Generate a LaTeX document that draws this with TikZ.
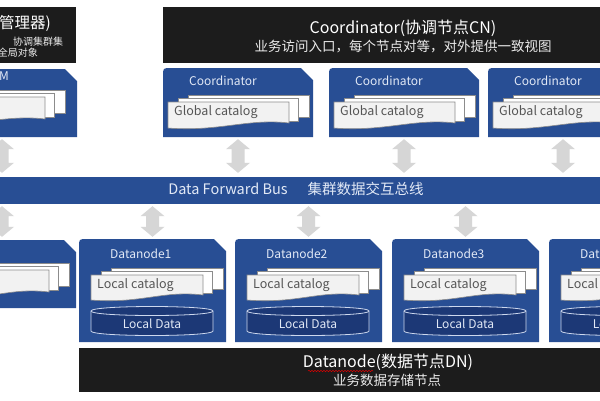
\documentclass[tikz,border=0pt]{standalone}
\usepackage{fontspec}
\setmainfont{Noto Sans CJK SC}
\usetikzlibrary{fit,calc,decorations.pathmorphing}

\definecolor{boxblue}{RGB}{40,78,148}
\definecolor{cylblue}{RGB}{28,56,118}
\definecolor{cyledge}{RGB}{205,216,238}
\definecolor{darkbox}{RGB}{28,28,28}
\definecolor{arrgray}{RGB}{214,214,214}
\definecolor{pagefill}{RGB}{242,242,242}
\definecolor{pageedge}{RGB}{140,140,140}
\definecolor{labeltxt}{RGB}{226,233,246}
\definecolor{pagetxt}{RGB}{85,85,85}

\tikzset{
  lbl/.style={font=\fontsize{12}{14}\selectfont, text=labeltxt, inner sep=0pt},
  pagetext/.style={font=\fontsize{12.5}{14}\selectfont, text=pagetxt, inner sep=0pt, anchor=west},
  pageback/.style={fill=white, draw=pageedge, line width=0.6pt},
  pagefront/.style={fill=pagefill, draw=pageedge, line width=0.6pt},
  darkpanel/.style={fill=darkbox, inner sep=0pt},
  buspanel/.style={fill=boxblue, inner sep=0pt},
  bigtitle/.style={font=\fontsize{16}{18}\selectfont, text=white, inner sep=0pt},
  subtitle/.style={font=\fontsize{13.5}{15}\selectfont, text=white!92!black, inner sep=0pt},
  smalltitle/.style={font=\fontsize{10}{12}\selectfont, text=white!92!black, inner sep=0pt},
  bustext/.style={font=\fontsize{14.5}{16}\selectfont, text=labeltxt, inner sep=0pt},
  arrowfill/.style={fill=arrgray},
}

% chamfered blue box: name, x1, y1, x2, y2
\newcommand\chambox[5]{%
  \fill[boxblue] (#2,#5) -- (#2,#3+8) .. controls (#2,#3) .. (#2+8,#3) -- (#4-12,#3) -- (#4,#3+12) -- (#4,#5) -- cycle;
  \path (#2,#3) coordinate (#1-nw) (#4,#5) coordinate (#1-se);
  \node[fit=(#1-nw)(#1-se), inner sep=0pt] (#1) {};
}
% stack of pages: name, x1, y1, x2, y2, text
\newcommand\docstack[6]{%
  \filldraw[pageback] (#2+20,#3-7) rectangle (#4+20,#5-11);
  \filldraw[pageback] (#2+10,#3-4) rectangle (#4+9,#5-7);
  \filldraw[pagefront] (#2,#3) -- (#4,#3) -- (#4,#5-5) .. controls (#4-40,#5-10) and (#2+50,#5+4) .. (#2,#5) -- cycle;
  \node[pagetext] (#1) at (#2+6,#3+10) {#6};
}
% cylinder: name, x1, x2, ytop, ybottom
\newcommand\datacyl[5]{%
  \filldraw[fill=cylblue, draw=cyledge, line width=0.8pt] (#2,#4) -- (#2,#5) .. controls (#2,#5+6) and (#3,#5+6) .. (#3,#5) -- (#3,#4) .. controls (#3,#4-6) and (#2,#4-6) .. (#2,#4) -- cycle;
  \draw[cyledge, line width=0.8pt] (#2,#4) .. controls (#2,#4+6) and (#3,#4+6) .. (#3,#4);
  \node[lbl] (#1) at ({(#2+#3)/2},{(#4+#5)/2+3}) {Local Data};
}
\newcommand\datanode[3]{%
  \chambox{#1}{#2}{239}{#2+147}{342}
  \node[lbl, anchor=west] (#1-title) at (#2+31,254) {Datanode#3};
  \docstack{#1-cat}{#2+12}{275}{#2+124}{300}{Local catalog}
  \datacyl{#1-data}{#2+12}{#2+134}{311}{331}
}
\newcommand\coordnode[2]{%
  \chambox{#1}{#2}{68}{#2+150}{137}
  \node[lbl] (#1-title) at (#2+60,81) {Coordinator};
  \docstack{#1-cat}{#2+5}{102}{#2+126}{128}{Global catalog}
}
% fat double arrow between two points (top, bottom)
\newcommand\dblarrow[2]{%
  \fill[arrowfill] let \p1=#1, \p2=#2 in
   (\x1,\y1) -- (\x1+12pt,\y1-10pt) -- (\x1+6.5pt,\y1-10pt) -- (\x1+6.5pt,\y2+10pt)
   -- (\x1+12pt,\y2+10pt) -- (\x1,\y2) -- (\x1-12pt,\y2+10pt) -- (\x1-6.5pt,\y2+10pt)
   -- (\x1-6.5pt,\y1-10pt) -- (\x1-12pt,\y1-10pt) -- cycle;
}

\begin{document}
\begin{tikzpicture}[x=1pt,y=-1pt]
\useasboundingbox (0,0) rectangle (600,400);
\clip (0,0) rectangle (600,400);
\fill[white] (0,0) rectangle (600,400);

% ---- top dark panels
\path (-5,7) coordinate (gtmp-nw) (76,63) coordinate (gtmp-se);
\node[darkpanel, fit=(gtmp-nw)(gtmp-se)] (gtmpanel) {};
\node[bigtitle, font=\fontsize{15.5}{17}\selectfont, anchor=east] (gtmpt) at (51,23) {管理器)};
\node[smalltitle, anchor=west] (gtmps1) at (13,42) {协调集群集};
\node[smalltitle, anchor=east] (gtmps2) at (38,53) {全局对象};

\path (163,7) coordinate (cnp-nw) (610,63) coordinate (cnp-se);
\node[darkpanel, fit=(cnp-nw)(cnp-se)] (cnpanel) {};
\node[bigtitle] (cnt) at (403,28) {Coordinator(协调节点CN)};
\node[subtitle] (cns) at (403,47) {业务访问入口，每个节点对等，对外提供一致视图};

% ---- GTM box and coordinators
\chambox{gtm}{-73}{69}{77}{137}
\node[lbl, anchor=east] (gtm-title) at (9,76) {GTM};
\docstack{gtm-cat}{-80}{97}{45}{124}{}

\coordnode{c1}{163}
\coordnode{c2}{329}
\coordnode{c3}{488}

% ---- bus
\path (-5,177) coordinate (bus-nw) (605,204) coordinate (bus-se);
\node[buspanel, fit=(bus-nw)(bus-se)] (bus) {};
\node[bustext] (bustitle) at (296,189) {Data Forward Bus\hspace{20pt}集群数据交互总线};

% ---- datanodes
\chambox{dn0}{-72}{240}{76}{308}
\docstack{dn0-cat}{-60}{270}{49}{297}{}
\datanode{dn1}{79}{1}
\datanode{dn2}{235}{2}
\datanode{dn3}{392}{3}
\datanode{dn4}{549}{4}

% ---- bottom dark panel
\path (79,348) coordinate (dnp-nw) (610,392) coordinate (dnp-se);
\node[darkpanel, fit=(dnp-nw)(dnp-se)] (dnpanel) {};
\node[bigtitle] (dnt) at (388,362) {Datanode(数据节点DN)};
\node[subtitle] (dns) at (387,380) {业务数据存储节点};
\draw[red!85!black, line width=0.5pt, decorate, decoration={snake, amplitude=0.7pt, segment length=3pt}] (308,371) -- (373,371);

% ---- arrows
\dblarrow{($(gtm.south)+(0pt,-2pt)$)}{($(gtm.south |- bus.north)+(0pt,4pt)$)}
\dblarrow{($(c1.south)+(0pt,-2pt)$)}{($(c1.south |- bus.north)+(0pt,4pt)$)}
\dblarrow{($(c2.south)+(0pt,-2pt)$)}{($(c2.south |- bus.north)+(0pt,4pt)$)}
\dblarrow{($(c3.south)+(0pt,-2pt)$)}{($(c3.south |- bus.north)+(0pt,4pt)$)}
\dblarrow{($(dn0.north |- bus.south)+(0pt,-2pt)$)}{($(dn0.north)+(0pt,3pt)$)}
\dblarrow{($(dn1.north |- bus.south)+(0pt,-2pt)$)}{($(dn1.north)+(0pt,2pt)$)}
\dblarrow{($(dn2.north |- bus.south)+(0pt,-2pt)$)}{($(dn2.north)+(0pt,2pt)$)}
\dblarrow{($(dn3.north |- bus.south)+(0pt,-2pt)$)}{($(dn3.north)+(0pt,2pt)$)}
\end{tikzpicture}
\end{document}
